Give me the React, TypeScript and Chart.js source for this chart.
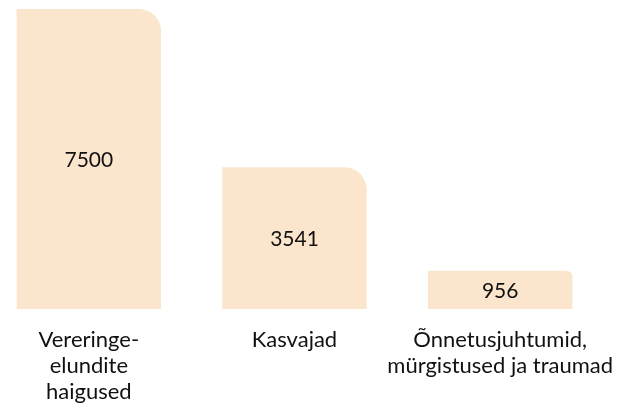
import React, { useEffect, useRef } from "react";
import { Chart, registerables } from "chart.js";

Chart.register(...registerables);

const categories: string[][] = [
  ["Vereringe-", "elundite", "haigused"],
  ["Kasvajad"],
  ["Õnnetusjuhtumid,", "mürgistused ja traumad"],
];
const values: number[] = [7500, 3541, 956];
const yMax = 7500;

const valueLabels = {
  id: "valueLabels",
  afterDatasetsDraw(chart: any) {
    const ctx = chart.ctx;
    const meta = chart.getDatasetMeta(0);
    ctx.save();
    ctx.font = "21px Lato";
    ctx.fillStyle = "#111111";
    ctx.textAlign = "center";
    ctx.textBaseline = "middle";
    meta.data.forEach((bar: any, i: number) => {
      const y = (bar.y + bar.base) / 2 + 1;
      ctx.fillText(String(values[i]), bar.x, y);
    });
    ctx.restore();
  },
};

export default function App() {
  const ref = useRef<HTMLCanvasElement | null>(null);
  useEffect(() => {
    if (!ref.current) return;
    const chart = new Chart(ref.current, {
      type: "bar",
      data: {
        labels: categories,
        datasets: [
          {
            data: values,
            backgroundColor: "#FCE5CD",
            borderWidth: 0,
            borderSkipped: "start",
            borderRadius: (c: any) => ({
              topLeft: 0,
              topRight: c.dataIndex === 2 ? 6 : 22,
              bottomLeft: 0,
              bottomRight: 0,
            }),
            categoryPercentage: 1,
            barPercentage: 0.702,
          },
        ],
      },
      options: {
        animation: false,
        responsive: false,
        maintainAspectRatio: false,
        layout: { padding: { top: 9, left: 0, right: 18, bottom: 0 } },
        plugins: { legend: { display: false }, tooltip: { enabled: false } },
        scales: {
          x: {
            grid: { display: false, drawTicks: false },
            border: { display: false },
            ticks: {
              color: "#111111",
              font: { family: "Lato", size: 22, lineHeight: 26 / 22 },
              padding: 18,
              maxRotation: 0,
              minRotation: 0,
              autoSkip: false,
            },
            afterFit: (s: any) => {
              s.height = 103;
              s.paddingLeft = 0;
              s.paddingRight = 0;
            },
          },
          y: {
            display: false,
            min: 0,
            max: yMax,
          },
        },
      },
      plugins: [valueLabels],
    });
    return () => chart.destroy();
  }, []);
  return (
    <div style={{ position: "absolute", left: -14, top: 0, width: 635, height: 412 }}>
      <canvas ref={ref} width={635} height={412} style={{ width: 635, height: 412 }} />
    </div>
  );
}
